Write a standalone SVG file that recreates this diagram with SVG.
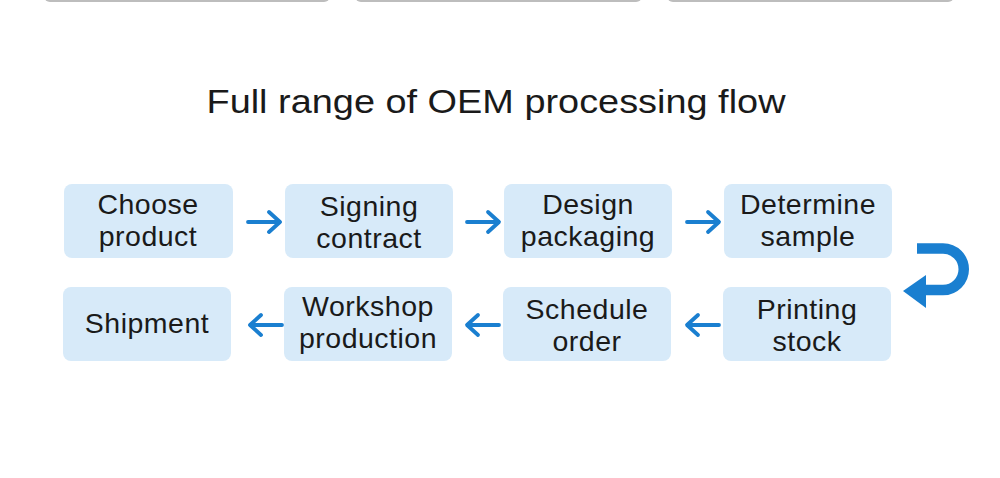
<svg xmlns="http://www.w3.org/2000/svg" width="1000" height="478" viewBox="0 0 1000 478">
<style>
.bar{fill:#bdbdbd}
.box{fill:#d7eaf9}
.t{font-family:"Liberation Sans",Arial,sans-serif;font-size:28.5px;letter-spacing:0.5px;fill:#1a1a1a;text-anchor:middle}
.title{font-family:"Liberation Sans",Arial,sans-serif;font-size:33px;fill:#1a1a1a;text-anchor:middle}
.ar{stroke:#1a7fd0;stroke-width:3.8;fill:none;stroke-linecap:round;stroke-linejoin:round}
</style>
<rect width="1000" height="478" fill="#ffffff"/>
<rect class="bar" x="44" y="-10" width="286" height="12" rx="6"/>
<rect class="bar" x="355" y="-10" width="287" height="12" rx="6"/>
<rect class="bar" x="667" y="-10" width="287" height="12" rx="6"/>
<text class="title" x="496" y="113" textLength="579" lengthAdjust="spacingAndGlyphs">Full range of OEM processing flow</text>
<g id="n1"><rect class="box" x="64" y="184" width="169" height="74" rx="8"/><text class="t" x="148" y="214">Choose</text><text class="t" x="148" y="246">product</text></g>
<g id="n2"><rect class="box" x="285" y="184" width="168" height="74" rx="8"/><text class="t" x="369" y="216">Signing</text><text class="t" x="369" y="248">contract</text></g>
<g id="n3"><rect class="box" x="504" y="184" width="168" height="74" rx="8"/><text class="t" x="588" y="214">Design</text><text class="t" x="588" y="246">packaging</text></g>
<g id="n4"><rect class="box" x="724" y="184" width="168" height="74" rx="8"/><text class="t" x="808" y="214">Determine</text><text class="t" x="808" y="246">sample</text></g>
<g id="n5"><rect class="box" x="723" y="287" width="168" height="74" rx="8"/><text class="t" x="807" y="319">Printing</text><text class="t" x="807" y="351">stock</text></g>
<g id="n6"><rect class="box" x="503" y="287" width="168" height="74" rx="8"/><text class="t" x="587" y="319">Schedule</text><text class="t" x="587" y="351">order</text></g>
<g id="n7"><rect class="box" x="284" y="287" width="168" height="74" rx="8"/><text class="t" x="368" y="316">Workshop</text><text class="t" x="368" y="348">production</text></g>
<g id="n8"><rect class="box" x="63" y="287" width="168" height="74" rx="8"/><text class="t" x="147" y="333">Shipment</text></g>
<g id="connectors">
<path class="ar" d="M248 222H279M269 212L280 222L269 232"/>
<path class="ar" d="M467 222H498M488 212L499 222L488 232"/>
<path class="ar" d="M687 222H718M708 212L719 222L708 232"/>
<path class="ar" d="M719 325H688M698 315L687 325L698 335"/>
<path class="ar" d="M499 325H468M478 315L467 325L478 335"/>
<path class="ar" d="M282 325H251M261 315L250 325L261 335"/>
<path d="M917 248.5H943A20.75 20.75 0 0 1 943 290H922" stroke="#1a7fd0" stroke-width="10.5" fill="none"/>
<polygon points="903,291 926,275 926,308" fill="#1a7fd0"/>
</g>
</svg>
